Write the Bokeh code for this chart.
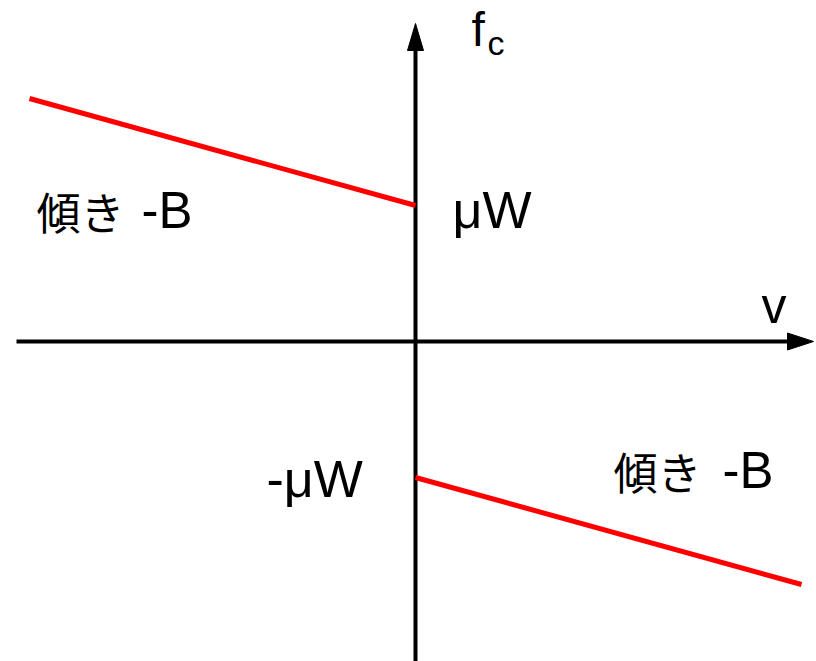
from bokeh.plotting import figure
from bokeh.models import Range1d, Label
from bokeh.embed import file_html
from bokeh.resources import INLINE

# Data (pixel-like units, origin at axes crossing)
v_left = [-386, 0]
fc_left = [243, 136]
v_right = [0, 386]
fc_right = [-136, -243]

axis_label_x = "v"
axis_label_y = "f"
axis_label_y_sub = "c"
slope_label = "傾き"
slope_suffix = "-B"
intercept_pos = "μW"
intercept_neg = "-μW"

p = figure(width=816, height=661, output_backend="svg", toolbar_location=None,
           x_range=Range1d(-415, 401), y_range=Range1d(-320, 341),
           min_border=0, background_fill_color="white", border_fill_color="white")
p.xaxis.visible = False
p.yaxis.visible = False
p.grid.visible = False
p.outline_line_color = None

# axes lines
p.segment(x0=[-399, 0], y0=[0, -322], x1=[374, 0], y1=[0, 295],
          line_color="black", line_width=4)
# arrow heads
p.patches(xs=[[372, 398, 372], [-8, 0, 8]], ys=[[8.5, 0, -8.5], [291, 318, 291]],
          fill_color="black", line_color="black", line_width=1)

# red lines
p.line(v_left, fc_left, line_color="#ff0000", line_width=5)
p.line(v_right, fc_right, line_color="#ff0000", line_width=5)

sans = "Liberation Sans"
cjk = "Noto Sans CJK JP"

def lab(x, y, t, font, size):
    p.add_layout(Label(x=x, y=y, text=t, text_font=font, text_font_size=f"{size}px",
                       text_color="black", text_baseline="alphabetic", text_align="left"))

# f_c
lab(56, 312, axis_label_y, sans, 48)
lab(72, 299, axis_label_y_sub, sans, 34)
# v
lab(346, 36, axis_label_x, sans, 50)
# left slope label
lab(-379, 131, slope_label, cjk, 44)
lab(-274, 131, slope_suffix, sans, 51)
# right slope label
lab(198, -129, slope_label, cjk, 44)
lab(307, -129, slope_suffix, sans, 51)
# μW
lab(37, 132, intercept_pos, sans, 52)
# -μW
lab(-149, -137, intercept_neg, sans, 52)

open("out.html", "w").write(file_html(p, INLINE))
